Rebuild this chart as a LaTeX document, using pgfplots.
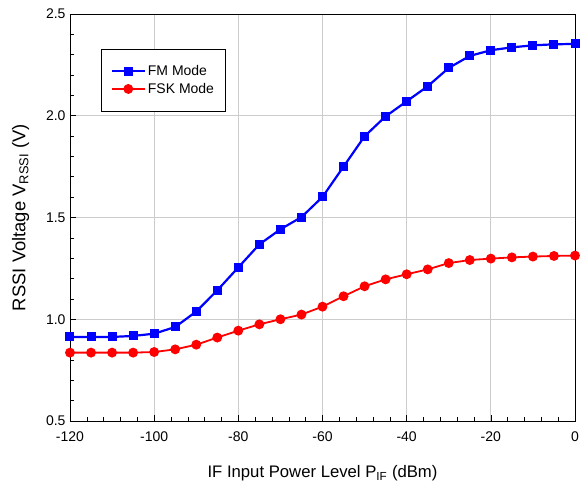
\documentclass[border=0pt]{standalone}
\usepackage{fontspec}
\setmainfont{Liberation Sans}
\usepackage{pgfplots}
\pgfplotsset{compat=1.18}
\usetikzlibrary{calc}
\begin{document}
\begin{tikzpicture}
\begin{axis}[
  name=ax,
  scale only axis,
  width=505pt, height=407pt,
  xmin=-120, xmax=0, ymin=0.5, ymax=2.5,
  xtick={-120,-100,...,0},
  ytick={0.5,1.0,...,2.5},
  minor x tick num=4,
  minor y tick num=4,
  tick align=inside,
  tick pos=left,
  major tick length=6pt,
  minor tick length=4pt,
  every tick/.style={black, line width=0.6pt},
  axis line style={black, line width=0.8pt},
  grid=major,
  major grid style={color=black!20, line width=0.8pt},
  /pgf/number format/assume math mode=true,
  yticklabel style={/pgf/number format/fixed, /pgf/number format/fixed zerofill, /pgf/number format/precision=1, font=\fontsize{14}{16}\selectfont, xshift=-1pt},
  xticklabel style={font=\fontsize{14}{16}\selectfont, yshift=-7pt},
  xlabel={IF Input Power Level P\textsubscript{IF} (dBm)},
  ylabel={RSSI Voltage V\textsubscript{RSSI} (V)},
  xlabel style={font=\fontsize{16.7}{19}\selectfont, yshift=-17pt},
  ylabel style={font=\fontsize{18.4}{21}\selectfont, yshift=10pt},
  legend style={at={(0.061,0.915)}, anchor=north west, draw=black, line width=0.8pt, font=\fontsize{14}{16}\selectfont, row sep=2pt, inner xsep=9.5pt, inner ysep=14.5pt},
  legend cell align=left,
  legend image code/.code={\draw[mark repeat=2,mark phase=2] plot coordinates {(0pt,0pt)(16.5pt,0pt)(33pt,0pt)};},
]
\addplot[color=blue, line width=2.2pt, mark=square*, mark size=3.4pt, mark options={solid}] coordinates {
(-120,0.913)(-115,0.913)(-110,0.913)(-105,0.918)(-100,0.929)(-95,0.962)(-90,1.038)(-85,1.142)(-80,1.255)(-75,1.368)(-70,1.442)(-65,1.502)(-60,1.601)(-55,1.750)(-50,1.899)(-45,1.997)(-40,2.071)(-35,2.145)(-30,2.235)(-25,2.294)(-20,2.322)(-15,2.336)(-10,2.346)(-5,2.351)(0,2.353)};
\addlegendentry{FM Mode}
\addplot[color=red, line width=1.8pt, mark=*, mark size=4pt, mark options={solid}] coordinates {
(-120,0.836)(-115,0.836)(-110,0.836)(-105,0.836)(-100,0.839)(-95,0.852)(-90,0.875)(-85,0.910)(-80,0.944)(-75,0.975)(-70,1.000)(-65,1.023)(-60,1.062)(-55,1.113)(-50,1.162)(-45,1.196)(-40,1.221)(-35,1.245)(-30,1.276)(-25,1.291)(-20,1.298)(-15,1.304)(-10,1.308)(-5,1.311)(0,1.313)};
\addlegendentry{FSK Mode}
\end{axis}
\pgfresetboundingbox
\path ($(ax.south west)+(-70pt,-66.3pt)$) rectangle ($(ax.north east)+(6pt,14pt)$);
\end{tikzpicture}
\end{document}
